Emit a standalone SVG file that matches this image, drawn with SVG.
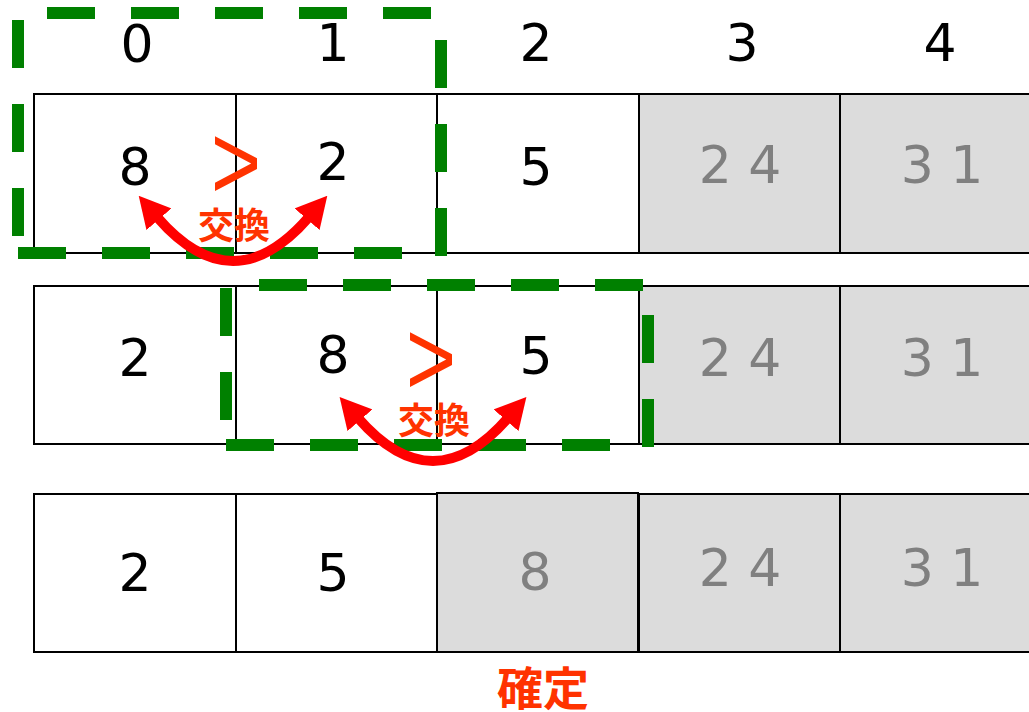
<svg xmlns="http://www.w3.org/2000/svg" width="1029" height="712" viewBox="0 0 1029 712">
<style>
.cell{fill:#ffffff;stroke:#000000;stroke-width:2}
.done{fill:#dcdcdc;stroke:#000000;stroke-width:2}
.num{font-family:"DejaVu Sans",Verdana,sans-serif;font-size:52px;fill:#000000;text-anchor:middle}
.gnum{font-family:"DejaVu Sans",Verdana,sans-serif;font-size:52px;fill:#808080;text-anchor:middle}
.hdr{font-family:"DejaVu Sans",Verdana,sans-serif;font-size:52px;fill:#000000;text-anchor:middle}
.gt{font-family:"Liberation Sans",Arial,sans-serif;font-size:108px;fill:#ff3300;text-anchor:middle}
.jp{font-family:"Noto Sans CJK JP","Noto Sans CJK SC",sans-serif;font-weight:bold;fill:#ff3300;text-anchor:middle}
.dash{stroke:#008000;stroke-width:12;stroke-dasharray:48 36;fill:none}
.arc{stroke:#ff0000;stroke-width:10;fill:none;marker-start:url(#ah);marker-end:url(#ah)}
</style>
<defs>
<marker id="ah" viewBox="0 0 31 33" markerUnits="userSpaceOnUse" markerWidth="31" markerHeight="33" refX="3" refY="16.5" orient="auto-start-reverse">
<path d="M0,0 L31,16.5 L0,33 z" fill="#ff0000"/>
</marker>
</defs>

<g id="headers">
<text class="hdr" x="137" y="62">0</text>
<text class="hdr" x="333" y="61">1</text>
<text class="hdr" x="536" y="61">2</text>
<text class="hdr" x="742" y="61">3</text>
<text class="hdr" x="940" y="61">4</text>
</g>

<g id="row1">
<g id="r1c0"><rect class="cell" x="34" y="94" width="202" height="159"/><text class="num" x="135" y="185">8</text></g>
<g id="r1c1"><rect class="cell" x="236" y="94" width="201" height="159"/><text class="num" x="333" y="180">2</text></g>
<g id="r1c2"><rect class="cell" x="437" y="94" width="202" height="159"/><text class="num" x="536" y="185">5</text></g>
<g id="r1c3"><rect class="done" x="639" y="94" width="201" height="159"/><text class="gnum" x="740" y="183">2 4</text></g>
<g id="r1c4"><rect class="done" x="840" y="94" width="201" height="159"/><text class="gnum" x="942" y="183">3 1</text></g>
</g>

<g id="row2">
<g id="r2c0"><rect class="cell" x="34" y="286" width="202" height="158"/><text class="num" x="135" y="376">2</text></g>
<g id="r2c1"><rect class="cell" x="236" y="286" width="201" height="158"/><text class="num" x="333" y="373">8</text></g>
<g id="r2c2"><rect class="cell" x="437" y="286" width="202" height="158"/><text class="num" x="536" y="374">5</text></g>
<g id="r2c3"><rect class="done" x="639" y="286" width="201" height="158"/><text class="gnum" x="740" y="376">2 4</text></g>
<g id="r2c4"><rect class="done" x="840" y="286" width="201" height="158"/><text class="gnum" x="942" y="376">3 1</text></g>
</g>

<g id="row3">
<g id="r3c0"><rect class="cell" x="34" y="494" width="202" height="158"/><text class="num" x="135" y="591">2</text></g>
<g id="r3c1"><rect class="cell" x="236" y="494" width="201" height="158"/><text class="num" x="333" y="591">5</text></g>
<g id="r3c2"><rect class="done" x="437" y="493" width="201" height="159"/><text class="gnum" x="535" y="590">8</text></g>
<g id="r3c3"><rect class="done" x="639" y="494" width="201" height="158"/><text class="gnum" x="740" y="586">2 4</text></g>
<g id="r3c4"><rect class="done" x="840" y="494" width="201" height="158"/><text class="gnum" x="942" y="586">3 1</text></g>
</g>

<g id="compare1">
<line class="dash" x1="47" y1="13" x2="431" y2="13"/>
<line class="dash" x1="18" y1="20" x2="18" y2="236"/>
<line class="dash" x1="18" y1="253" x2="402" y2="253"/>
<line class="dash" x1="441" y1="40" x2="441" y2="258"/>
</g>

<g id="compare2">
<line class="dash" x1="259" y1="285" x2="643" y2="285"/>
<line class="dash" x1="226" y1="288" x2="226" y2="420"/>
<line class="dash" x1="226" y1="445" x2="610" y2="445"/>
<line class="dash" x1="648" y1="315" x2="648" y2="451"/>
</g>

<g id="connectors">
<path class="arc" d="M157,217 Q233,305 309,217"/>
<path class="arc" d="M358,418 Q433,504 508,418"/>
</g>

<g id="labels">
<text class="gt" transform="translate(236,199) scale(0.8,1)" x="0" y="0">&gt;</text>
<text class="gt" transform="translate(431,395) scale(0.8,1)" x="0" y="0">&gt;</text>
<text class="jp" x="234" y="239" font-size="36">交換</text>
<text class="jp" x="434" y="434" font-size="36">交換</text>
<text class="jp" x="543" y="705" font-size="46">確定</text>
</g>
</svg>
